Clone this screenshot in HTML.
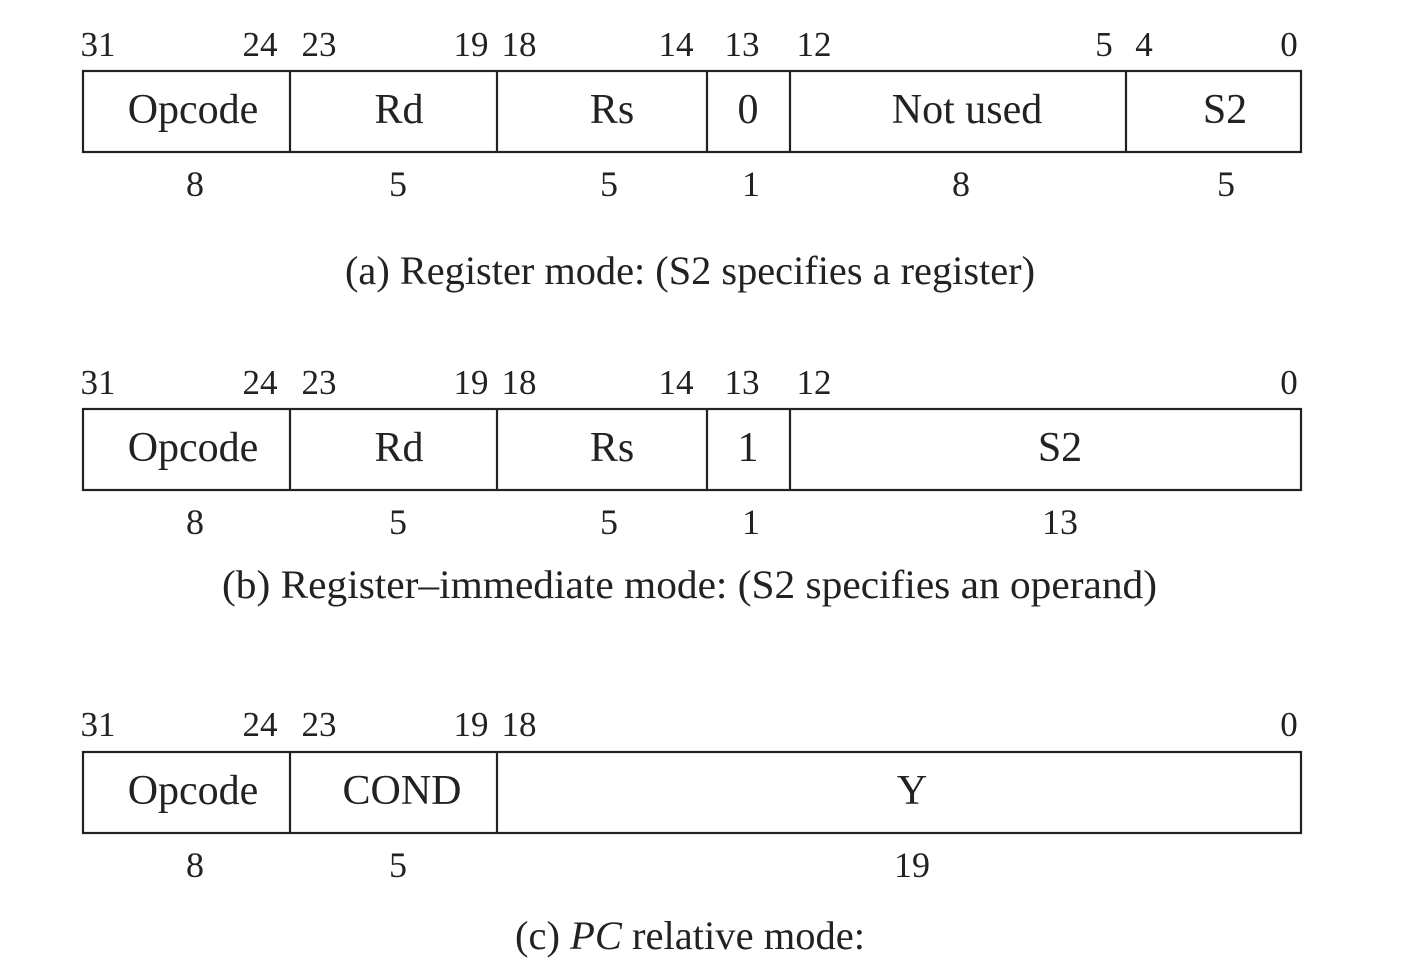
<!DOCTYPE html>
<html><head><meta charset="utf-8"><style>
html,body{margin:0;padding:0;background:#fff;}
svg{display:block;}
text{font-family:"Liberation Serif",serif;fill:#222;}
.b{font-size:35px;text-anchor:middle;}
.l{font-size:42px;text-anchor:middle;}
.s{font-size:36px;text-anchor:middle;}
.c{font-size:40px;}
</style></head><body>
<svg width="1408" height="968" viewBox="0 0 1408 968">
<g stroke="#222" stroke-width="2.2" fill="none">
<rect x="83" y="71" width="1218" height="81"/>
<line x1="290" y1="71" x2="290" y2="152"/><line x1="497" y1="71" x2="497" y2="152"/>
<line x1="707" y1="71" x2="707" y2="152"/><line x1="790" y1="71" x2="790" y2="152"/>
<line x1="1126" y1="71" x2="1126" y2="152"/>
<rect x="83" y="409" width="1218" height="81"/>
<line x1="290" y1="409" x2="290" y2="490"/><line x1="497" y1="409" x2="497" y2="490"/>
<line x1="707" y1="409" x2="707" y2="490"/><line x1="790" y1="409" x2="790" y2="490"/>
<rect x="83" y="752" width="1218" height="81"/>
<line x1="290" y1="752" x2="290" y2="833"/><line x1="497" y1="752" x2="497" y2="833"/>
</g>
<g class="b">
<text x="98" y="56">31</text><text x="260" y="56">24</text><text x="319" y="56">23</text>
<text x="471" y="56">19</text><text x="519" y="56">18</text><text x="676" y="56">14</text>
<text x="742" y="56">13</text><text x="814" y="56">12</text><text x="1104" y="56">5</text>
<text x="1144" y="56">4</text><text x="1289" y="56">0</text>
</g>
<g class="l">
<text x="193" y="123">Opcode</text><text x="399" y="123">Rd</text><text x="612" y="123">Rs</text>
<text x="748" y="123">0</text><text x="967" y="123">Not used</text><text x="1225" y="123">S2</text>
</g>
<g class="s">
<text x="195" y="196">8</text><text x="398" y="196">5</text><text x="609" y="196">5</text>
<text x="751" y="196">1</text><text x="961" y="196">8</text><text x="1226" y="196">5</text>
</g>
<text class="c" x="345" y="284" textLength="690" lengthAdjust="spacingAndGlyphs">(a) Register mode: (S2 specifies a register)</text>
<g class="b">
<text x="98" y="394">31</text><text x="260" y="394">24</text><text x="319" y="394">23</text>
<text x="471" y="394">19</text><text x="519" y="394">18</text><text x="676" y="394">14</text>
<text x="742" y="394">13</text><text x="814" y="394">12</text><text x="1289" y="394">0</text>
</g>
<g class="l">
<text x="193" y="461">Opcode</text><text x="399" y="461">Rd</text><text x="612" y="461">Rs</text>
<text x="748" y="461">1</text><text x="1060" y="461">S2</text>
</g>
<g class="s">
<text x="195" y="534">8</text><text x="398" y="534">5</text><text x="609" y="534">5</text>
<text x="751" y="534">1</text><text x="1060" y="534">13</text>
</g>
<text class="c" x="222" y="598" textLength="935" lengthAdjust="spacingAndGlyphs">(b) Register–immediate mode: (S2 specifies an operand)</text>
<g class="b">
<text x="98" y="736">31</text><text x="260" y="736">24</text><text x="319" y="736">23</text>
<text x="471" y="736">19</text><text x="519" y="736">18</text><text x="1289" y="736">0</text>
</g>
<g class="l">
<text x="193" y="804">Opcode</text><text x="402" y="804">COND</text><text x="912" y="804">Y</text>
</g>
<g class="s">
<text x="195" y="877">8</text><text x="398" y="877">5</text><text x="912" y="877">19</text>
</g>
<text class="c" x="515" y="949" textLength="350" lengthAdjust="spacingAndGlyphs">(c) <tspan font-style="italic">PC</tspan> relative mode:</text>
</svg>
</body></html>
